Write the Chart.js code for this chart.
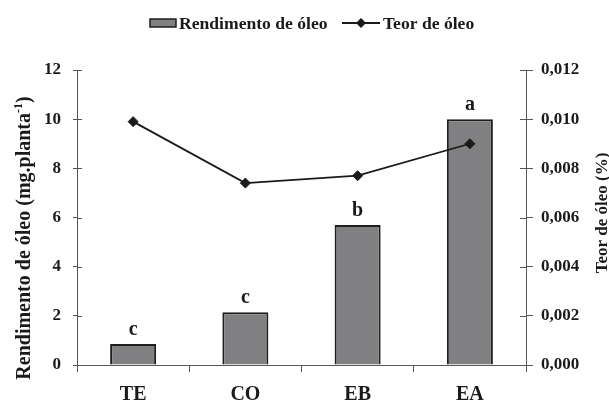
<!DOCTYPE html>
<html>
<head>
<meta charset="utf-8">
<script src="https://cdn.jsdelivr.net/npm/chart.js@4"></script>
<style>
  html, body { margin: 0; padding: 0; background: #fff; }
</style>
</head>
<body>
<canvas id="chart" width="609" height="403"></canvas>
<script>
let categories = ["TE", "CO", "EB", "EA"];
let rendimento = [0.85, 2.15, 5.7, 10.0];
let teor = [0.0099, 0.0074, 0.0077, 0.0090];
let letters = ["c", "c", "b", "a"];
let leftTickValues = [0, 2, 4, 6, 8, 10, 12];
let leftTickLabels = ["0", "2", "4", "6", "8", "10", "12"];
let rightTickValues = [0, 0.002, 0.004, 0.006, 0.008, 0.010, 0.012];
let rightTickLabels = ["0,000", "0,002", "0,004", "0,006", "0,008", "0,010", "0,012"];

let serif = '"Liberation Serif", "Times New Roman", serif';
let barFill = '#808082';
let barEdge = '#1e1e1e';
let ink = '#1a1a1a';
let axisColor = '#555';

function bold(size) {
    return 'bold ' + size + 'px ' + serif;
}

let extras = {
    id: 'extras',
    afterDraw(chart) {
        let ctx = chart.ctx;
        let area = chart.chartArea;
        let y = chart.scales.y;
        let y1 = chart.scales.y1;
        let x = chart.scales.x;

        ctx.save();
        // inner half of the crossing ticks
        ctx.strokeStyle = axisColor;
        ctx.lineWidth = 1;
        ctx.beginPath();
        y.ticks.forEach(t => {
            let py = Math.round(y.getPixelForValue(t.value)) + 0.5;
            ctx.moveTo(area.left, py);
            ctx.lineTo(area.left + 5, py);
        });
        y1.ticks.forEach(t => {
            let py = Math.round(y1.getPixelForValue(t.value)) + 0.5;
            ctx.moveTo(area.right - 6, py);
            ctx.lineTo(area.right, py);
        });
        ctx.stroke();

        // letters over the bars
        ctx.fillStyle = ink;
        ctx.font = bold(20);
        ctx.textAlign = 'center';
        ctx.textBaseline = 'alphabetic';
        for (let i = 0; i < categories.length; i++) {
            let px = x.getPixelForValue(i);
            let py = y.getPixelForValue(rendimento[i]);
            ctx.fillText(letters[i], px, py - 9);
        }

        // left title with superscript
        ctx.save();
        ctx.translate(25, 238);
        ctx.rotate(-Math.PI / 2);
        ctx.textAlign = 'left';
        ctx.textBaseline = 'middle';
        let main = 'Rendimento de óleo (mg.planta';
        let sup = '-1';
        let close = ')';
        ctx.font = bold(20);
        let w1 = ctx.measureText(main).width;
        let w3 = ctx.measureText(close).width;
        ctx.font = bold(12);
        let w2 = ctx.measureText(sup).width;
        let start = -(w1 + w2 + w3) / 2;
        ctx.font = bold(20);
        ctx.fillText(main, start, 0);
        ctx.font = bold(12);
        ctx.fillText(sup, start + w1, -6);
        ctx.font = bold(20);
        ctx.fillText(close, start + w1 + w2, 0);
        ctx.restore();

        // right title
        ctx.save();
        ctx.translate(603, 213);
        ctx.rotate(-Math.PI / 2);
        ctx.textAlign = 'center';
        ctx.textBaseline = 'middle';
        ctx.font = bold(17);
        ctx.fillText('Teor de óleo (%)', 0, 0);
        ctx.restore();

        // legend
        let ly = 23;
        ctx.fillStyle = barFill;
        ctx.fillRect(150, ly - 4, 26, 8);
        ctx.strokeStyle = barEdge;
        ctx.lineWidth = 1.5;
        ctx.strokeRect(150, ly - 4, 26, 8);
        ctx.strokeStyle = ink;
        ctx.lineWidth = 1.8;
        ctx.beginPath();
        ctx.moveTo(342, ly);
        ctx.lineTo(380, ly);
        ctx.stroke();
        ctx.fillStyle = ink;
        ctx.beginPath();
        ctx.moveTo(361, ly - 5);
        ctx.lineTo(366, ly);
        ctx.lineTo(361, ly + 5);
        ctx.lineTo(356, ly);
        ctx.closePath();
        ctx.fill();
        ctx.font = bold(17.6);
        ctx.textAlign = 'left';
        ctx.textBaseline = 'middle';
        ctx.fillText('Rendimento de óleo', 179, ly + 1);
        ctx.fillText('Teor de óleo', 383, ly + 1);
        ctx.restore();
    }
};

let ctx = document.getElementById('chart');
let chart = new Chart(ctx, {
    type: 'bar',
    data: {
        labels: categories,
        datasets: [
            {
                type: 'line',
                label: 'Teor de óleo',
                data: teor,
                yAxisID: 'y1',
                order: 1,
                borderColor: ink,
                borderWidth: 1.8,
                tension: 0,
                pointStyle: 'rectRot',
                pointRadius: 5,
                pointBackgroundColor: ink,
                pointBorderColor: ink,
                pointBorderWidth: 1
            },
            {
                label: 'Rendimento de óleo',
                data: rendimento,
                yAxisID: 'y',
                order: 2,
                backgroundColor: barFill,
                borderColor: barEdge,
                borderWidth: 2,
                barPercentage: 0.41,
                categoryPercentage: 1
            }
        ]
    },
    options: {
        responsive: false,
        devicePixelRatio: 1,
        animation: false,
        layout: { padding: { top: 70, left: 0, right: 0, bottom: 0 } },
        plugins: {
            legend: { display: false },
            tooltip: { enabled: false }
        },
        scales: {
            x: {
                grid: { offset: true, drawOnChartArea: false, tickLength: 7, color: axisColor },
                border: { color: axisColor, width: 1 },
                ticks: { font: { family: serif, size: 20, weight: 'bold' }, color: ink, padding: 11 },
                afterFit: s => { s.height = 38; }
            },
            y: {
                position: 'left',
                min: 0,
                max: 12,
                afterBuildTicks: s => { s.ticks = leftTickValues.map(v => ({ value: v })); },
                ticks: {
                    font: { family: serif, size: 17, weight: 'bold' },
                    color: ink,
                    padding: 12,
                    callback: (v, i) => leftTickLabels[i]
                },
                grid: { drawOnChartArea: false, tickLength: 4, color: axisColor },
                border: { color: axisColor, width: 1 },
                afterFit: s => { s.width = 77; }
            },
            y1: {
                position: 'right',
                min: 0,
                max: 0.012,
                afterBuildTicks: s => { s.ticks = rightTickValues.map(v => ({ value: v })); },
                ticks: {
                    font: { family: serif, size: 17, weight: 'bold' },
                    color: ink,
                    padding: 8,
                    callback: (v, i) => rightTickLabels[i]
                },
                grid: { drawOnChartArea: false, tickLength: 7, color: axisColor },
                border: { color: axisColor, width: 1 },
                afterFit: s => { s.width = 83; }
            }
        }
    },
    plugins: [extras]
});
</script>
</body>
</html>
